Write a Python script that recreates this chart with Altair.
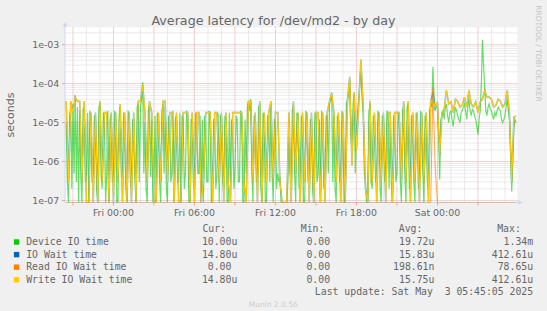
import altair as alt
import pandas as pd

# ------------------------------------------------------------------
# Data (microseconds). Hours are relative to Fri 00:00.
# Device IO time is read every 5 minutes, the wait times every 10 minutes;
# both start at Thu 20:30 (hour -3.5).
# ------------------------------------------------------------------
FIRST_HOUR = -3.5
DEVICE_STEP_MIN = 5
WAIT_STEP_MIN = 10

device_io_us = [
    10, 0.3, 0, 15, 20, 0.2, 30, 0.5, 50, 0.3, 25, 0, 20, 0.4, 0, 22, 25, 0.3, 0.5, 18,
    0, 20, 10, 0.3, 0.3, 15, 15, 0.2, 0, 25, 30, 0.5, 0.2, 18, 12, 0, 0.5, 20, 0, 12,
    15, 0.3, 0.3, 20, 12, 0, 0, 15, 25, 0.4, 0.5, 18, 10, 0.2, 0, 20, 15, 0.3, 0.2, 12,
    12, 0.5, 0, 25, 30, 0.3, 25, 40, 110, 0.5, 10, 0.2, 0, 20, 30, 0.4, 12, 0, 0.3, 15,
    0, 18, 10, 0.3, 0, 20, 30, 0.5, 25, 0.2, 0, 15, 12, 0.3, 0.5, 20, 0, 12, 15, 0.3,
    0.3, 18, 0, 15, 12, 0.2, 0.5, 20, 15, 0, 0, 12, 12, 0.3, 0.2, 18, 15, 0.5, 0.5, 15,
    0, 12, 0, 15, 10, 0.3, 0.3, 20, 15, 0, 0, 12, 12, 0.2, 0.5, 18, 0, 15, 15, 0.3,
    0.2, 15, 12, 0, 0, 18, 0.3, 12, 10, 0.2, 0.5, 15, 12, 0.3, 0.3, 20, 15, 0, 0, 12,
    0.5, 25, 35, 20, 40, 0.5, 0, 15, 12, 0.3, 0.3, 25, 30, 0.2, 0, 18, 12, 0, 0, 15,
    15, 0.3, 30, 0.5, 0, 12, 12, 0.2, 0.5, 0.3, 0.4, 0, 0, 0, 0, 0, 0, 0.3, 12, 0.5,
    0.3, 20, 30, 0.5, 0, 18, 15, 0.2, 0.3, 15, 12, 0, 0, 20, 15, 0.3, 0.5, 12, 12, 0.2,
    0, 18, 15, 0.3, 0.5, 12, 0, 20, 12, 0.2, 0.3, 15, 15, 0.5, 30, 40, 60, 0.3, 15, 0.2,
    0, 15, 12, 0.3, 0.3, 20, 10, 0, 0, 30, 40, 60, 130, 5, 2, 30, 60, 0.5, 5, 20,
    40, 100, 300, 40, 20, 0.5, 0.3, 0, 0, 18, 30, 0.3, 0.2, 15, 12, 0.3, 0.3, 20, 15, 0.2,
    0, 15, 12, 0.3, 0.5, 20, 15, 0.2, 10, 0.3, 0, 15, 15, 0.3, 0.5, 18, 12, 0.3, 0, 20,
    30, 0.5, 0, 25, 30, 0.2, 0.3, 15, 15, 0.3, 0, 18, 12, 0.2, 0.3, 20, 15, 0.5, 0, 15,
    12, 0.3, 0.2, 20, 30, 25, 270, 40, 20, 25, 25, 6, 0.35, 12, 15, 20, 12, 25, 30, 15,
    10, 18, 20, 12, 8, 15, 25, 20, 15, 12, 10, 18, 20, 25, 30, 20, 12, 25, 40, 20,
    15, 22, 20, 15, 12, 8, 5, 12, 20, 100, 1340, 300, 80, 20, 15, 25, 30, 22, 20, 15,
    12, 18, 15, 20, 25, 22, 20, 12, 10, 12, 15, 25, 40, 20, 12, 2, 0.17, 1, 8, 12,
    10,
]

io_wait_us = [
    35, 0.3, 35, 18, 45, 35, 35, 0.3, 35, 0,
    0, 18, 0, 18, 0, 35, 0.3, 18, 18, 0,
    18, 0, 18, 0.3, 30, 0, 18, 0, 18, 0,
    18, 0, 35, 35, 90, 18, 0.3, 35, 18, 0,
    0, 18, 0.3, 35, 35, 0.3, 18, 18, 0, 18,
    0, 0, 18, 18, 18, 0, 18, 0, 18, 18,
    0, 0.3, 18, 18, 18, 0, 18, 18, 0.3, 18,
    0, 18, 0.3, 0, 18, 18, 18, 18, 18, 0.3,
    0, 35, 35, 0.3, 18, 0, 35, 0, 18, 0.3,
    18, 35, 0.3, 18, 18, 0.3, 0, 0, 0, 18,
    0, 35, 0.5, 18, 0, 18, 0.3, 18, 0, 18,
    0, 18, 18, 0, 18, 0, 18, 35, 55, 18,
    0.3, 18, 0, 18, 0, 35, 150, 0.8, 55, 2,
    30, 412.6, 25, 0.2, 0, 35, 0.3, 18, 0, 18,
    0.3, 18, 0, 18, 18, 0, 18, 18, 18, 0.3,
    35, 0.3, 35, 0, 18, 0.3, 18, 0, 18, 0.3,
    18, 0, 35, 60, 25, 34, 1.5, 18, 22, 67,
    30, 34, 18, 40, 35, 25, 28, 45, 25, 67,
    30, 25, 34, 18, 34, 40, 67, 45, 45, 40,
    25, 28, 40, 35, 25, 30, 67, 18, 0.3, 14,
    14.8,
]

read_wait_us = [0] * 163 + [78.65, 0.7] + [0] * 36

write_wait_us = [
    35, 0.3, 35, 18, 45, 35, 35, 0.3, 35, 0,
    0, 18, 0, 18, 0, 35, 0.3, 18, 18, 0,
    18, 0, 18, 0.3, 30, 0, 18, 0, 18, 0,
    18, 0, 35, 35, 90, 18, 0.3, 35, 18, 0,
    0, 18, 0.3, 35, 35, 0.3, 18, 18, 0, 18,
    0, 0, 18, 18, 18, 0, 18, 0, 18, 18,
    0, 0.3, 18, 18, 18, 0, 18, 18, 0.3, 18,
    0, 18, 0.3, 0, 18, 18, 18, 18, 18, 0.3,
    0, 35, 35, 0.3, 18, 0, 35, 0, 18, 0.3,
    18, 35, 0.3, 18, 18, 0.3, 0, 0, 0, 18,
    0, 35, 0.5, 18, 0, 18, 0.3, 18, 0, 18,
    0, 18, 18, 0, 18, 0, 18, 35, 55, 18,
    0.3, 18, 0, 18, 0, 35, 150, 0.8, 55, 2,
    30, 412.6, 25, 0.2, 0, 35, 0.3, 18, 0, 18,
    0.3, 18, 0, 18, 18, 0, 18, 18, 18, 0.3,
    35, 0.3, 35, 0, 18, 0.3, 18, 0, 18, 0.3,
    18, 0, 35, 40, 25, 34, 1.5, 18, 22, 67,
    30, 34, 18, 40, 35, 25, 28, 45, 25, 67,
    30, 25, 34, 18, 34, 40, 67, 45, 45, 40,
    25, 28, 40, 35, 25, 30, 67, 18, 0.3, 14,
    14.8,
]

x_tick_hours = [0, 6, 12, 18, 24]
x_tick_labels = ["Fri 00:00", "Fri 06:00", "Fri 12:00", "Fri 18:00", "Sat 00:00"]
y_decades = [1e-7, 1e-6, 1e-5, 1e-4, 1e-3]
y_tick_labels = ["1e-07", "1e-06", "1e-05", "1e-04", "1e-03"]

legend_names = ["Device IO time", "IO Wait time", "Read IO Wait time", "Write IO Wait time"]
legend_colors = ["#00CC00", "#0066B3", "#FF8000", "#FFCC00"]
legend_cur = ["10.00u", "14.80u", "0.00", "14.80u"]
legend_min = ["0.00", "0.00", "0.00", "0.00"]
legend_avg = ["19.72u", "15.83u", "198.61n", "15.75u"]
legend_max = ["1.34m", "412.61u", "78.65u", "412.61u"]

title_text = "Average latency for /dev/md2 - by day"
y_title = "seconds"
last_update = "Last update: Sat May\u00a0\u00a03 05:45:05 2025"
footer = "Munin 2.0.56"
watermark = "RRDTOOL / TOBI OETIKER"

# ------------------------------------------------------------------
# Layout / style
# ------------------------------------------------------------------
PLOT_L, PLOT_T, PLOT_R, PLOT_B = 65, 27.3, 517.5, 202.5
W = PLOT_R - PLOT_L
H = PLOT_B - PLOT_T
X_DOMAIN = [-3.59, 29.93]
Y_DOMAIN = [8.93e-8, 2.78e-3]

FONT = "DejaVu Sans"
MONO = "DejaVu Sans Mono"
TXT = "#666666"
AXIS_COL = "#CFD6F8"
MINOR_GRID = "#D6D6D6"
MAJOR_GRID = "#E9A0A0"
CHAR_W = 5.93

xs = alt.Scale(domain=X_DOMAIN, nice=False, zero=False)
ys = alt.Scale(type="log", domain=Y_DOMAIN, nice=False, clamp=True)


def series_df(vals, step_min):
    return pd.DataFrame({
        "h": [FIRST_HOUR + i * step_min / 60 for i in range(len(vals))],
        "us": vals,
    })


def line(vals, step_min, color, width=1.0, opacity=1.0):
    return (
        alt.Chart(series_df(vals, step_min))
        .transform_calculate(sec="max(datum.us, 0.01) * 1e-6")
        .mark_line(interpolate="linear", color=color, strokeWidth=width,
                   opacity=opacity, clip=True)
        .encode(
            x=alt.X("h:Q", scale=xs, axis=None),
            y=alt.Y("sec:Q", scale=ys, axis=None),
        )
    )


def vgrid(hours, color):
    return alt.Chart(pd.DataFrame({"h": hours})).mark_rule(
        color=color, strokeDash=[1, 1], strokeWidth=1
    ).encode(x=alt.X("h:Q", scale=xs, axis=None))


def hgrid(vals, color):
    return alt.Chart(pd.DataFrame({"sec": vals})).mark_rule(
        color=color, strokeDash=[1, 1], strokeWidth=1
    ).encode(y=alt.Y("sec:Q", scale=ys, axis=None))


one = pd.DataFrame({"k": [0]})


def label(text, px, py, size=9.8, font=MONO, color=TXT, align="left",
          baseline="middle", angle=0):
    return alt.Chart(one).mark_text(
        font=font, fontSize=size, color=color, align=align, baseline=baseline, angle=angle
    ).encode(x=alt.value(px - PLOT_L), y=alt.value(py - PLOT_T), text=alt.value(text))


hours_major = list(range(-3, 30, 3))
hours_minor = [h for h in range(-3, 30) if h % 3 != 0]
y_minor = [k * d for d in [1e-8] + y_decades for k in range(2, 10)
           if Y_DOMAIN[0] <= k * d <= Y_DOMAIN[1]]

xticks_df = pd.DataFrame({"h": x_tick_hours, "label": x_tick_labels})
yticks_df = pd.DataFrame({"sec": y_decades, "label": y_tick_labels})

layers = [
    vgrid(hours_minor, MINOR_GRID),
    hgrid(y_minor, MINOR_GRID),
    vgrid(hours_major, MAJOR_GRID),
    hgrid(y_decades, MAJOR_GRID),
    # axis lines
    alt.Chart(one).mark_rule(color=AXIS_COL, strokeWidth=1).encode(
        x=alt.XDatum(X_DOMAIN[0], scale=xs, axis=None), y=alt.value(-3), y2=alt.value(H)),
    alt.Chart(one).mark_rule(color=AXIS_COL, strokeWidth=1).encode(
        y=alt.YDatum(Y_DOMAIN[0], scale=ys, axis=None), x=alt.value(0), x2=alt.value(W + 3)),
    # data
    line(device_io_us, DEVICE_STEP_MIN, legend_colors[0], width=1.2, opacity=0.6),
    line(io_wait_us, WAIT_STEP_MIN, legend_colors[1], width=1.6, opacity=0.45),
    line(write_wait_us, WAIT_STEP_MIN, legend_colors[3], width=1.1, opacity=1.0),
    line(read_wait_us, WAIT_STEP_MIN, legend_colors[2], opacity=0.7),
    # axis ticks
    alt.Chart(pd.DataFrame({"h": hours_major})).mark_rule(color=MAJOR_GRID).encode(
        x=alt.X("h:Q", scale=xs, axis=None), y=alt.value(H), y2=alt.value(H + 3)),
    alt.Chart(yticks_df).mark_rule(color=MAJOR_GRID).encode(
        y=alt.Y("sec:Q", scale=ys, axis=None), x=alt.value(-3), x2=alt.value(0)),
    # axis arrows
    alt.Chart(one).mark_point(shape="triangle-up", filled=True, size=26, color=AXIS_COL,
                              opacity=1, yOffset=-3).encode(
        x=alt.XDatum(X_DOMAIN[0], scale=xs, axis=None),
        y=alt.YDatum(Y_DOMAIN[1], scale=ys, axis=None)),
    alt.Chart(one).mark_point(shape="triangle-right", filled=True, size=26, color=AXIS_COL,
                              opacity=1, xOffset=3).encode(
        x=alt.XDatum(X_DOMAIN[1], scale=xs, axis=None),
        y=alt.YDatum(Y_DOMAIN[0], scale=ys, axis=None)),
    # tick labels
    alt.Chart(xticks_df).mark_text(
        font=FONT, fontSize=9.4, color=TXT, baseline="alphabetic", align="center"
    ).encode(x=alt.X("h:Q", scale=xs, axis=None), y=alt.value(216 - PLOT_T), text="label:N"),
    alt.Chart(yticks_df).mark_text(
        font=FONT, fontSize=9.4, color=TXT, baseline="middle", align="right"
    ).encode(y=alt.Y("sec:Q", scale=ys, axis=None), x=alt.value(59.3 - PLOT_L), text="label:N"),
    # titles and decorations
    label(title_text, 273.5, 25, size=12.7, font=FONT, align="center", baseline="alphabetic"),
    label(y_title, 10.7, 115, size=11, font=FONT, align="center", angle=270),
    label(watermark, 538, 53.5, size=7.5, font=FONT, color="#C4C4C4", align="center", angle=90),
    label(footer, 273.2, 305, size=7.5, font=FONT, color="#CCCCCC", align="center"),
    # legend header
    label("Cur:", 202.4, 229),
    label("Min:", 300.8, 229),
    label("Avg:", 398.8, 229),
    label("Max:", 497.2, 229),
    label(last_update, 533.1, 292.2, align="right"),
]


def col_right(edge, text):
    # values without a unit suffix leave the unit column blank
    return edge if text[-1].isalpha() else edge - CHAR_W


ROW_Y0, ROW_DY = 242, 12.6
for r in range(len(legend_names)):
    yy = ROW_Y0 + r * ROW_DY
    layers.append(
        alt.Chart(one).mark_rect(color=legend_colors[r]).encode(
            x=alt.value(13.9 - PLOT_L), x2=alt.value(19.3 - PLOT_L),
            y=alt.value(yy - 2.7 - PLOT_T), y2=alt.value(yy + 2.7 - PLOT_T))
    )
    layers.append(label(legend_names[r], 26.2, yy))
    layers.append(label(legend_cur[r], col_right(237.3, legend_cur[r]), yy, align="right"))
    layers.append(label(legend_min[r], col_right(336.0, legend_min[r]), yy, align="right"))
    layers.append(label(legend_avg[r], col_right(434.4, legend_avg[r]), yy, align="right"))
    layers.append(label(legend_max[r], col_right(533.1, legend_max[r]), yy, align="right"))

chart = (
    alt.layer(*layers)
    .properties(
        width=W, height=H, autosize="none", background="#F0F0F0",
        padding={"left": PLOT_L, "top": PLOT_T, "right": 547 - PLOT_R, "bottom": 311 - PLOT_B},
    )
    .configure_view(fill="white", stroke=None)
)

chart.save("out.html", embed_options={"renderer": "svg", "actions": False})
